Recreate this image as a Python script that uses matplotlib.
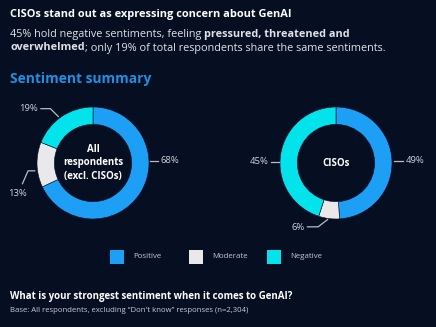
import matplotlib
matplotlib.use("Agg")
import matplotlib.pyplot as plt
from matplotlib.patches import Rectangle

plt.rcParams['font.family'] = ['Open Sans', 'DejaVu Sans']

# ---- data ----
categories = ["Positive", "Moderate", "Negative"]
all_resp = [68, 13, 19]
cisos = [49, 6, 45]
group_labels = ["All\nrespondents\n(excl. CISOs)", "CISOs"]

title = "CISOs stand out as expressing concern about GenAI"
subtitle_runs_1 = [("45% hold negative sentiments, feeling ", "normal"),
                   ("pressured, threatened and", "bold")]
subtitle_runs_2 = [("overwhelmed", "bold"),
                   ("; only 19% of total respondents share the same sentiments.", "normal")]
section = "Sentiment summary"
question = "What is your strongest sentiment when it comes to GenAI?"
base_note = "Base: All respondents, excluding \u201cDon't know\u201d responses (n=2,304)"

# ---- style ----
BG = "#060e22"
COLORS = ["#1d9ff5", "#e9e9eb", "#03e3ec"]
LEADER = "#b9bcc4"
LABEL_C = "#d0d3da"
W, H = 436, 327

fig = plt.figure(figsize=(W / 100, H / 100), dpi=100, facecolor=BG)
ov = fig.add_axes([0, 0, 1, 1])
ov.set_xlim(0, W)
ov.set_ylim(H, 0)
ov.axis("off")
ov.set_facecolor(BG)


def draw_runs(x, y, runs, size, color):
    fig.canvas.draw()
    r = fig.canvas.get_renderer()
    for txt, wt in runs:
        t = ov.text(x, y, txt, fontsize=size, fontweight=wt, color=color,
                    va="center", ha="left")
        bb = t.get_window_extent(renderer=r)
        x += bb.width * (W / fig.bbox.width)


ov.text(10, 14, title, fontsize=7.9, fontweight="bold", color="white",
        va="center", ha="left")
draw_runs(10, 34, subtitle_runs_1, 7.8, "#dfe2e8")
draw_runs(10, 48, subtitle_runs_2, 7.8, "#dfe2e8")
ov.text(10, 79, section, fontsize=9.9, fontweight="bold", color="#1f8fe3",
        va="center", ha="left")
ov.text(10, 296, question, fontsize=7.0, fontweight="bold", color="white",
        va="center", ha="left")
ov.text(10, 311, base_note, fontsize=5.6, color="#c9ccd4",
        va="center", ha="left")

# legend
leg_x = [110, 189, 267]
for x, c, name in zip(leg_x, COLORS, categories):
    ov.add_patch(Rectangle((x, 250), 14, 14, facecolor=c, edgecolor="none"))
    ov.text(x + 23, 257, name, fontsize=5.7, color="#c3c7cf",
            va="center", ha="left")

# leader line layouts in donut units (radius = 1)
layouts = [
    [  # all respondents: positive, moderate, negative
        dict(line=[(1.02, 0.04), (1.16, 0.04)], text=(1.2, 0.04), ha="left"),
        dict(line=[(-1.04, -0.14), (-1.16, -0.14), (-1.26, -0.37)],
             text=(-1.34, -0.55), ha="center"),
        dict(line=[(-0.62, 0.83), (-0.76, 0.97), (-0.93, 0.97)],
             text=(-0.98, 0.98), ha="right"),
    ],
    [  # CISOs
        dict(line=[(1.03, 0.04), (1.2, 0.04)], text=(1.25, 0.04), ha="left"),
        dict(line=[(-0.15, -1.01), (-0.32, -1.14), (-0.51, -1.14)],
             text=(-0.56, -1.15), ha="right"),
        dict(line=[(-1.01, 0.02), (-1.16, 0.02)], text=(-1.21, 0.02), ha="right"),
    ],
]

centers = [(93, 163), (336, 163)]
R = 56
for (cx, cy), vals, name, lay in zip(centers, [all_resp, cisos], group_labels, layouts):
    ax = fig.add_axes([(cx - R) / W, (H - cy - R) / H, 2 * R / W, 2 * R / H])
    ax.pie(vals, colors=COLORS, startangle=90, counterclock=False, radius=1,
           wedgeprops=dict(width=0.31, edgecolor=BG, linewidth=0.4))
    ax.set_xlim(-1, 1)
    ax.set_ylim(-1, 1)
    ax.set_aspect("equal")
    ax.axis("off")
    ax.text(0, 0, name, ha="center", va="center", fontsize=7, fontweight="bold",
            color="white", linespacing=1.25)
    for v, l in zip(vals, lay):
        xs, ys = zip(*l["line"])
        ax.plot(xs, ys, color=LEADER, lw=0.9, clip_on=False)
        ax.text(l["text"][0], l["text"][1], f"{v}%", ha=l["ha"], va="center",
                fontsize=6.8, color=LABEL_C, clip_on=False)

fig.savefig("out.png", dpi=100, facecolor=BG)
